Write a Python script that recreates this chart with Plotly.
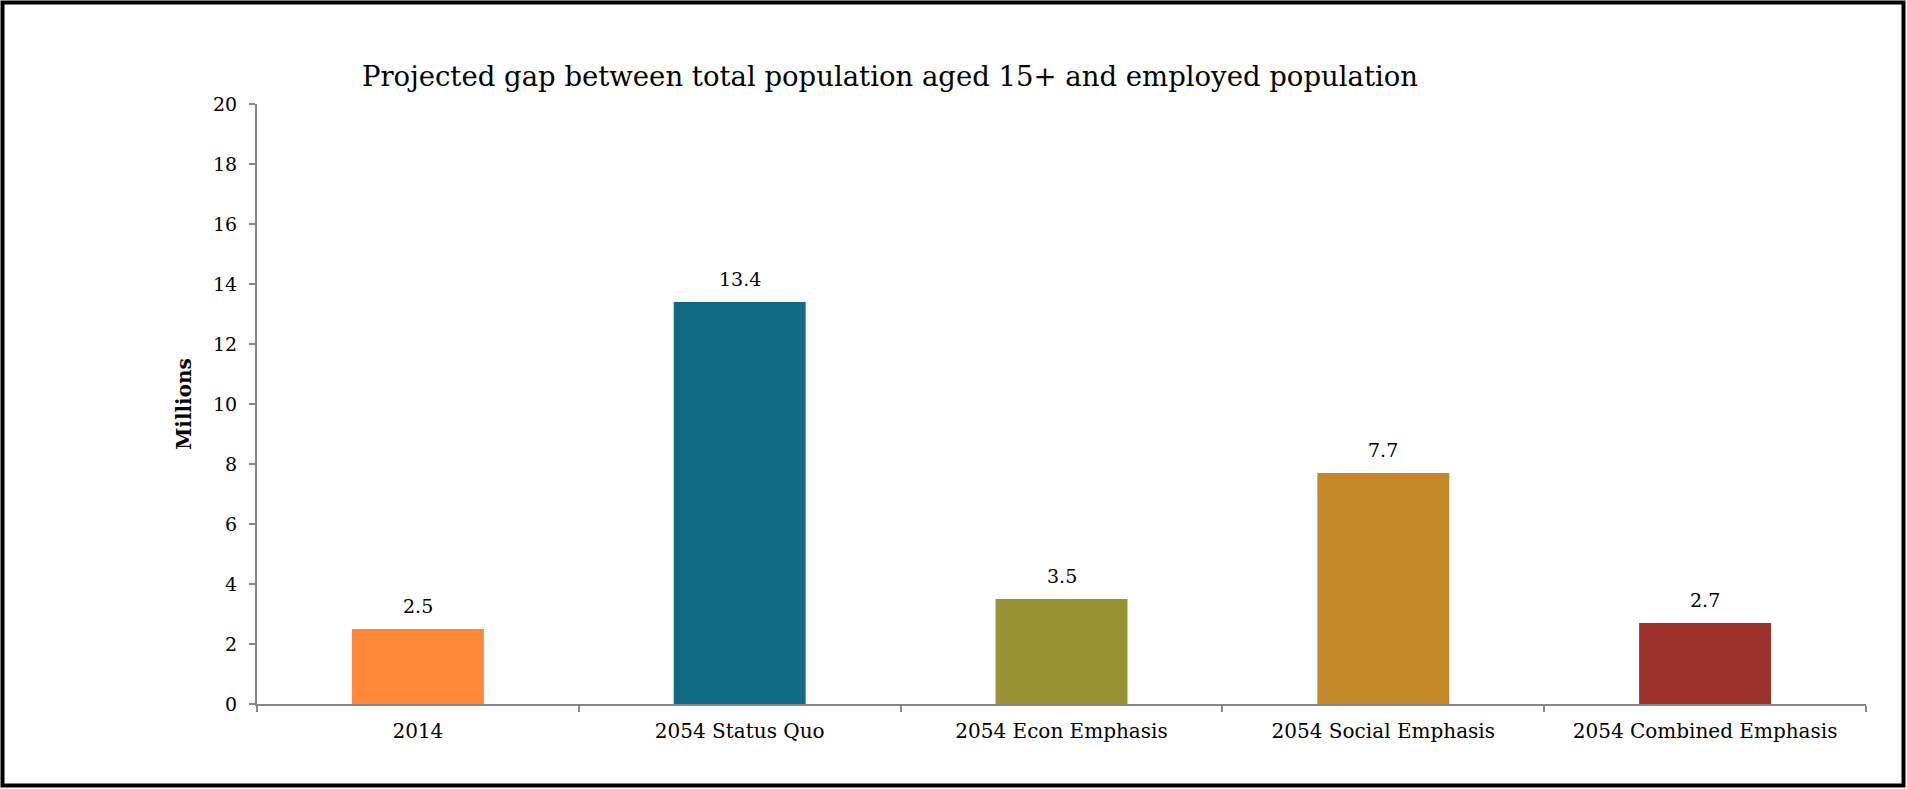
import plotly.graph_objects as go

# Gap between total population aged 15+ and employed population (millions)
categories = ["2014", "2054 Status Quo", "2054 Econ Emphasis",
              "2054 Social Emphasis", "2054 Combined Emphasis"]
gap_millions = [2.5, 13.4, 3.5, 7.7, 2.7]
value_labels = ["2.5", "13.4", "3.5", "7.7", "2.7"]
bar_colors = ["#FE8838", "#106983", "#989234", "#C38828", "#9A312B"]
y_ticks = [0, 2, 4, 6, 8, 10, 12, 14, 16, 18, 20]

W, H = 1907, 789
L, R, T, B = 257, 41, 104, 85
pw, ph = W - L - R, H - T - B

FONT = "DejaVu Serif"
AXIS_GREY = "#868686"

fig = go.Figure(
    go.Bar(
        x=categories,
        y=gap_millions,
        marker=dict(color=bar_colors, line=dict(width=0)),
        width=0.41,
        hoverinfo="x+y",
    )
)

# value labels above each bar (category axis positions are 0..n-1)
for idx, (val, lab) in enumerate(zip(gap_millions, value_labels)):
    fig.add_annotation(
        x=idx, y=val, text=lab, showarrow=False,
        yanchor="bottom", yshift=10,
        font=dict(family=FONT, size=19, color="#000000"),
    )

def px_x(p):
    return (p - L) / pw

def px_y(p):
    return (T + ph - p) / ph

# outer frame
fig.add_shape(
    type="rect", xref="paper", yref="paper",
    x0=px_x(2.5), x1=px_x(W - 3.5), y0=px_y(H - 3.5), y1=px_y(2.5),
    line=dict(color="#000000", width=4), fillcolor="rgba(0,0,0,0)",
)

fig.update_layout(
    width=W, height=H,
    margin=dict(l=L, r=R, t=T, b=B, pad=0),
    paper_bgcolor="#FFFFFF",
    plot_bgcolor="#FFFFFF",
    showlegend=False,
    title=dict(
        text="Projected gap between total population aged 15+ and employed population",
        x=px_x(890), xref="paper", xanchor="center",
        y=1 - 76.6 / H, yref="container", yanchor="middle",
        font=dict(family=FONT, size=27.5, color="#000000"),
    ),
    xaxis=dict(
        type="category",
        categoryorder="array", categoryarray=categories,
        range=[-0.5, len(categories) - 0.5],
        showgrid=False,
        showline=True, linecolor=AXIS_GREY, linewidth=2,
        ticks="outside", tickson="boundaries", ticklen=6,
        tickcolor=AXIS_GREY, tickwidth=2,
        tickfont=dict(family=FONT, size=20, color="#000000"),
        tickangle=0,
        ticklabelstandoff=8,
        zeroline=False,
    ),
    yaxis=dict(
        range=[0, 20],
        tickvals=y_ticks,
        showgrid=False,
        showline=True, linecolor=AXIS_GREY, linewidth=2,
        ticks="outside", ticklen=6, tickcolor=AXIS_GREY, tickwidth=2,
        tickfont=dict(family=FONT, size=19, color="#000000"),
        ticklabelstandoff=8,
        zeroline=False,
        title=dict(
            text="<b>Millions</b>", standoff=16,
            font=dict(family=FONT, size=20, color="#000000"),
        ),
    ),
)

fig.write_html("out.html")
